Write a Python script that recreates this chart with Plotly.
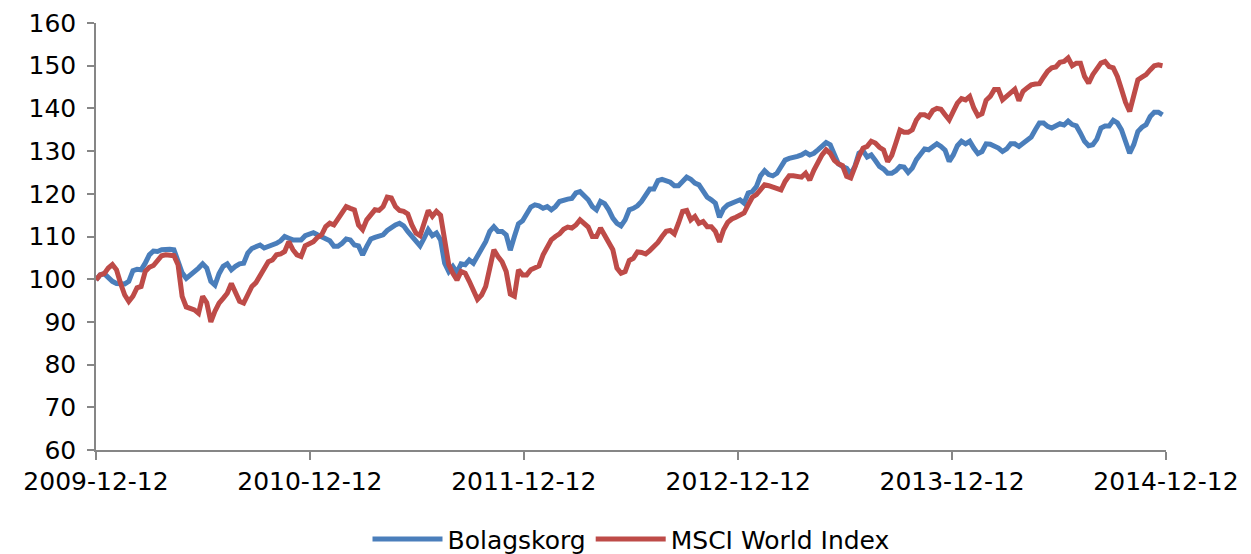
import pandas as pd
import plotly.graph_objects as go

# ---- data (weekly index values) ----
start_date = "2009-12-12"

bolagskorg = [
    99.8, 101, 101.3, 100.2, 99.5, 99, 99, 98.9, 99.5, 102, 102.3, 102.2, 103.75, 105.7, 106.6,
    106.5, 106.9, 107, 107, 106.9, 103.75, 101.5, 100.2, 101, 101.6, 102.6, 103.6, 102.6, 99.5,
    98.6, 101.3, 103, 103.6, 102.2, 103, 103.6, 103.75, 106.1, 107.2, 107.7, 108, 107.3, 107.7,
    107.8, 108.4, 109, 110, 109.6, 109.2, 109.2, 109.2, 110.2, 110.5, 110.9, 110.4, 110, 109.6,
    109, 107.7, 107.7, 108.4, 109.4, 109.2, 108, 107.8, 105.7, 107.7, 109.4, 109.8, 110, 110.4,
    111.4, 112.2, 112.7, 113.1, 112.5, 111.2, 110, 109.2, 107.8, 109.6, 111.6, 110.2, 110.8,
    109.2, 103.75, 101.8,
    103, 101.6, 103.6, 103.4, 104.5, 103.75, 105.3, 107, 108.8, 111.2, 112.3, 111.2, 111.2,
    110.4, 106.8, 110, 113, 113.7, 115.1, 116.9, 117.4, 117.2, 116.6, 117, 116.25, 117, 118.2,
    118.6, 118.75, 118.9, 120.2, 120.5, 119.5, 118.6, 117, 116.25, 118.2, 117.7, 116.25, 114.3,
    113.1, 112.5, 113.9, 116.25,
    116.6, 117.2, 118.2, 119.8, 121.1, 121.1, 123.1, 123.4, 123, 122.7, 121.9, 121.9, 122.9,
    123.9, 123.4, 122.5, 122.1, 120.5, 119.2, 118.6, 117.8, 114.5, 116.5, 117.4, 117.8, 118.4,
    118.6, 117.8, 120.2, 120.5, 121.7, 124.2, 125.4, 124.5, 124.2, 124.8, 126.25, 127.9, 128.3,
    128.4, 128.75, 129.1, 129.7,
    129.1, 129.5, 130.3, 131.25, 132, 131.5, 129.1, 127, 126.4, 126, 124.6, 126.4, 129.5, 130.1,
    128.6, 129.1, 127.8, 126.4, 125.8, 124.8, 124.8, 125.4, 126.4, 126.25, 125, 126, 128, 129.1,
    130.5, 130.3, 131.1, 131.7, 131.1, 130.2, 127.6, 129.1, 131.25, 132.3, 131.7, 132.3, 130.7,
    129.4, 129.9, 131.7,
    131.6, 131.25, 130.7, 129.9, 130.5, 131.7, 131.7, 131.1, 131.9, 132.5, 133.3, 135, 136.6,
    136.6, 135.8, 135.4, 135.9, 136.4, 136.1, 137, 136.2, 135.9, 134.2, 132.3, 131.25, 131.5,
    132.8, 135.4, 135.9, 135.9, 137.2, 136.6, 135, 132.3, 129.5, 131.5, 134.6, 135.6, 136.2,
    138.1, 139.1, 139.1, 138.5,
]

msci_world = [
    99.8, 101, 101.3, 102.6, 103.4, 102.2, 99, 96.3, 94.8, 96, 98, 98.3, 101.8, 102.8, 103.2,
    104.5, 105.5, 105.7, 105.7, 105.5, 103.4, 96, 93.5, 93.2, 92.8, 92, 96, 94.5, 90, 92.5, 94.4,
    95.5, 96.7, 99, 96.7, 94.8, 94.4, 96.7, 98.3, 99.2, 101, 102.2, 104.1,
    104.5, 105.7, 105.9, 106.5, 108.8, 106.9, 105.7, 105.3, 107.8, 108.4, 108.8, 109.8, 110.4,
    112.3, 113.1, 112.7, 114.3, 115.5, 117, 116.6, 116.25, 112.7, 111.6, 113.9, 115.3, 116.25,
    116.1, 117, 119.2, 119, 117, 116.1, 115.9, 115.3, 112.7, 110.8, 110.2, 113.1, 116.1, 114.7,
    115.9, 115, 109.2, 103.4,
    101.4, 99.8, 101.8, 101.4, 99.5, 97.5, 95.3, 96.3, 98.3, 102.6, 106.9, 105.3, 104.1, 101.8,
    96.5, 96, 102.2, 101, 101, 102.2, 102.6, 103.1, 105.7, 107.7, 109.2, 110, 110.6, 111.7,
    112.2, 112, 112.7, 113.9, 113.1, 112.2, 110, 110, 112, 110.4, 108.8, 106.9, 102.6, 101.4,
    101.8, 104.4,
    104.9, 106.4, 106.25, 105.9, 106.7, 107.6, 108.6, 110, 111.2, 111.4, 110.6, 113.1, 115.9,
    116.1, 113.9, 114.7, 113.1, 113.5, 112.3, 112.3, 111.2, 108.75, 111.6, 113.3, 114.1, 114.5,
    115.1, 115.5, 117.4, 119.2, 119.8, 120.9, 122.1, 121.9, 121.6, 121.25, 120.9, 122.9, 124.2,
    124.2, 123.9, 123.9, 124.8,
    123.2, 125.5, 127.6, 129.1, 130.3, 129.5, 127.8, 127, 126.6, 124.1, 123.7, 126.4, 128.75,
    130.7, 131.1, 132.3, 131.9, 130.9, 130.3, 127.5, 129, 131.9, 134.9, 134.4, 134.4, 135,
    137.3, 138.5, 138.5, 138, 139.5, 140, 139.8, 138.5, 137.3, 139.3, 141.25, 142.3, 142,
    142.8, 140.1, 138.3, 138.75, 141.9,
    142.8, 144.4, 144.4, 142, 142.8, 143.75, 144.5, 141.8, 144, 144.8, 145.5, 145.7, 145.8,
    147.3, 148.7, 149.5, 149.7, 150.8, 151, 151.8, 150, 150.6, 150.6, 147.5, 145.9, 147.9,
    149.5, 150.6, 151, 149.8, 149.5, 147.5, 144.5, 141.4, 139.3, 142.8, 146.7, 147.3, 147.9,
    149, 150, 150.2, 150,
]

series_names = ["Bolagskorg", "MSCI World Index"]
series_colors = ["#4A7EBB", "#BE4B48"]

x_tick_dates = ["2009-12-12", "2010-12-12", "2011-12-12", "2012-12-12", "2013-12-12", "2014-12-12"]
x_tick_labels = ["2009-12-12", "2010-12-12", "2011-12-12", "2012-12-12", "2013-12-12", "2014-12-12"]
y_tick_values = [60, 70, 80, 90, 100, 110, 120, 130, 140, 150, 160]

# ---- figure ----
dates_b = pd.date_range(start_date, periods=len(bolagskorg), freq="7D")
dates_m = pd.date_range(start_date, periods=len(msci_world), freq="7D")

font_family = "DejaVu Sans, Verdana, sans-serif"
font_size = 25
axis_color = "#868686"

fig = go.Figure()
for name, dts, vals, col in zip(series_names, [dates_b, dates_m], [bolagskorg, msci_world], series_colors):
    fig.add_trace(go.Scatter(
        x=dts, y=vals, name=name, mode="lines",
        line=dict(color=col, width=5),
    ))

fig.update_layout(
    width=1251, height=554,
    margin=dict(l=88, r=93, t=15, b=112, autoexpand=False),
    paper_bgcolor="white", plot_bgcolor="white",
    font=dict(family=font_family, size=font_size, color="#000000"),
    showlegend=True,
    legend=dict(
        orientation="h", x=0.5, xanchor="center", y=-0.155, yanchor="top",
        font=dict(family=font_family, size=font_size, color="#000000"),
        itemwidth=70, traceorder="normal",
    ),
)

fig.update_xaxes(
    type="date", automargin=False,
    range=[x_tick_dates[0], x_tick_dates[-1]],
    tickmode="array", tickvals=x_tick_dates, ticktext=x_tick_labels,
    showgrid=False, zeroline=False,
    showline=True, linecolor=axis_color, linewidth=1.5,
    ticks="outside", ticklen=8, tickcolor=axis_color, tickwidth=1.5,
    tickfont=dict(family=font_family, size=font_size),
)
fig.update_yaxes(
    range=[60, 160], automargin=False,
    tickmode="array", tickvals=y_tick_values,
    showgrid=False, zeroline=False,
    showline=True, linecolor=axis_color, linewidth=1.5,
    ticks="outside", ticklen=7, tickcolor=axis_color, tickwidth=1.5,
    ticklabelstandoff=6,
    tickfont=dict(family=font_family, size=font_size),
)

fig.write_html("out.html")
